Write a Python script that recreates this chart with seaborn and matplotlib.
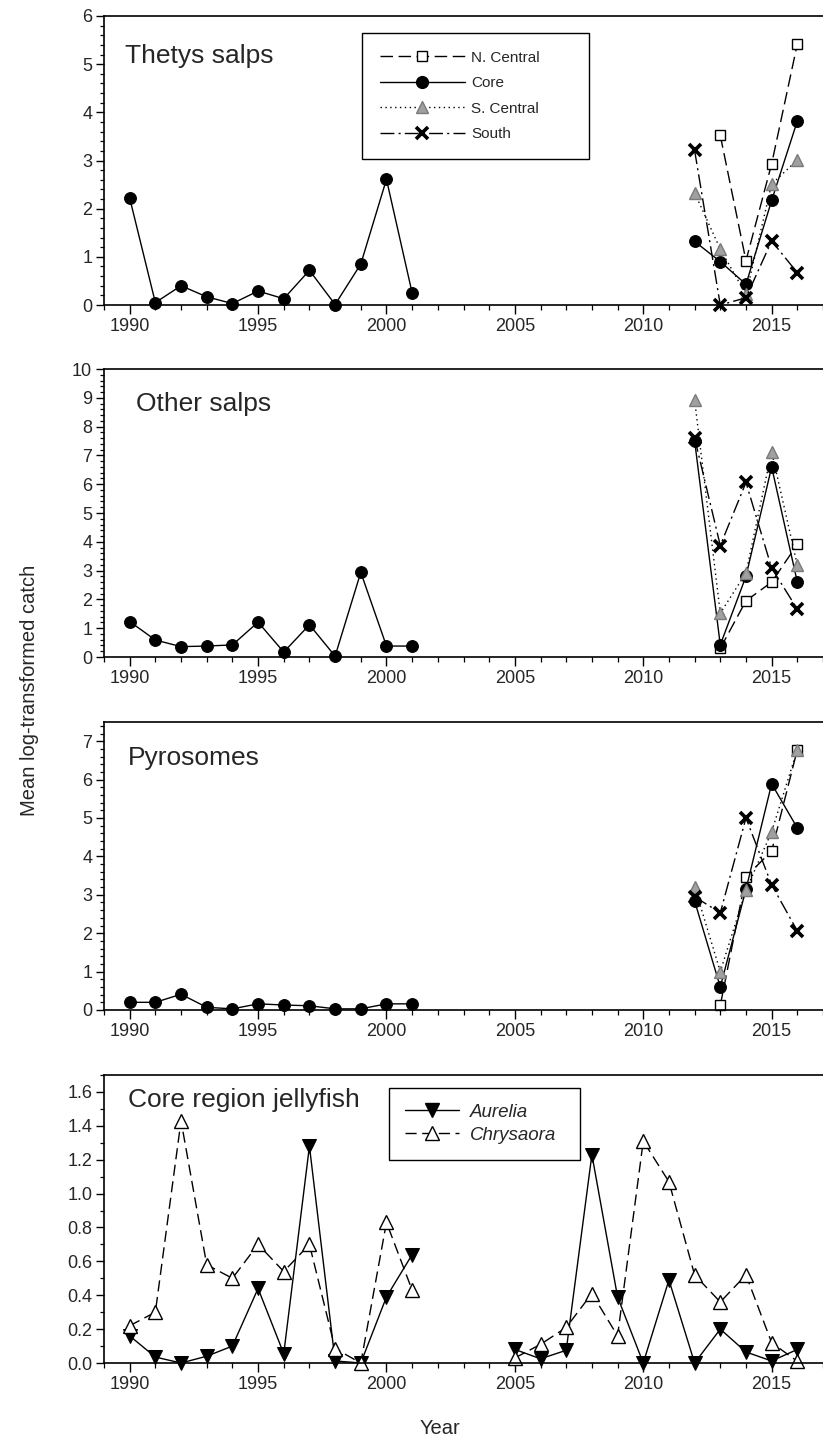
import matplotlib
matplotlib.use("Agg")
import matplotlib.pyplot as plt
from matplotlib.lines import Line2D
from matplotlib.ticker import MultipleLocator, FormatStrFormatter
import pandas as pd
import seaborn as sns

# ---- data ----
years_early = list(range(1990, 2002))
years_late = list(range(2012, 2017))
years_jelly_late = list(range(2005, 2017))

thetys_core_early = [2.22, 0.05, 0.40, 0.17, 0.03, 0.29, 0.13, 0.72, 0.01, 0.85, 2.61, 0.25]
thetys_ncentral = [None, 3.52, 0.92, 2.93, 5.42]
thetys_core_late = [1.32, 0.90, 0.43, 2.17, 3.82]
thetys_scentral = [2.33, 1.16, 0.22, 2.51, 3.01]
thetys_south = [3.21, 0.00, 0.15, 1.33, 0.67]

other_core_early = [1.23, 0.59, 0.36, 0.38, 0.42, 1.21, 0.17, 1.12, 0.03, 2.94, 0.38, 0.38]
other_ncentral = [None, 0.30, 1.95, 2.60, 3.91]
other_core_late = [7.51, 0.42, 2.80, 6.60, 2.60]
other_scentral = [8.93, 1.52, 2.92, 7.13, 3.19]
other_south = [7.60, 3.87, 6.06, 3.09, 1.66]

pyro_core_early = [0.20, 0.20, 0.41, 0.07, 0.03, 0.16, 0.13, 0.11, 0.03, 0.03, 0.16, 0.16]
pyro_ncentral = [None, 0.12, 3.47, 4.14, 6.78]
pyro_core_late = [2.84, 0.60, 3.14, 5.89, 4.74]
pyro_scentral = [3.21, 1.00, 3.12, 4.64, 6.78]
pyro_south = [2.95, 2.53, 5.00, 3.26, 2.06]

aurelia_early = [0.16, 0.035, 0.0, 0.04, 0.10, 0.44, 0.055, 1.28, 0.012, 0.0, 0.39, 0.64]
chrysaora_early = [0.22, 0.30, 1.43, 0.58, 0.50, 0.70, 0.54, 0.70, 0.085, 0.0, 0.83, 0.43]
aurelia_late = [0.08, 0.025, 0.075, 1.23, 0.39, 0.0, 0.49, 0.0, 0.20, 0.065, 0.012, 0.08]
chrysaora_late = [0.03, 0.11, 0.21, 0.41, 0.16, 1.31, 1.07, 0.52, 0.36, 0.52, 0.12, 0.01]

region_labels = ["N. Central", "Core", "S. Central", "South"]
jelly_labels = ["Aurelia", "Chrysaora"]
panel_titles = ["Thetys salps", "Other salps", "Pyrosomes", "Core region jellyfish"]

# ---- styles ----
STYLE_NC = dict(color="black", linestyle=(0, (9, 4)), marker="s", markersize=7.5,
                markerfacecolor="white", markeredgecolor="black", markeredgewidth=1.0)
STYLE_CORE = dict(color="black", linestyle="-", marker="o", markersize=8.5,
                  markerfacecolor="black", markeredgecolor="black")
STYLE_SC = dict(color="black", linestyle=(0, (1, 2.5)), marker="^", markersize=8.5,
                markerfacecolor="#a0a0a0", markeredgecolor="#7a7a7a", markeredgewidth=1.0)
STYLE_SOUTH = dict(color="black", linestyle=(0, (10, 3, 1.5, 3)), marker="x", markersize=8,
                   markeredgewidth=2.6, markeredgecolor="black")
STYLE_AUR = dict(color="black", linestyle="-", marker="v", markersize=10,
                 markerfacecolor="black", markeredgecolor="black")
STYLE_CHRY = dict(color="black", linestyle=(0, (8, 4)), marker="^", markersize=10,
                  markerfacecolor="white", markeredgecolor="black", markeredgewidth=1.0)


def draw(ax, years, values, style):
    df = pd.DataFrame({"year": years, "value": values}).dropna()
    sns.lineplot(data=df, x="year", y="value", ax=ax, estimator=None, sort=False,
                 legend=False, linewidth=1.0, clip_on=False, **style)


sns.set_theme(style="ticks")
plt.rcParams["font.family"] = ["Liberation Sans", "DejaVu Sans"]

W, H = 823, 1447
fig = plt.figure(figsize=(W / 100, H / 100), dpi=100)

left = 104 / W
width = (W - 104) / W
panel_px = [(16, 305), (369, 657), (722, 1010), (1075, 1363)]
axes = []
for top, bot in panel_px:
    ax = fig.add_axes([left, 1 - bot / H, width, (bot - top) / H])
    axes.append(ax)

# panel 1: Thetys salps
ax = axes[0]
draw(ax, years_early, thetys_core_early, STYLE_CORE)
draw(ax, years_late, thetys_ncentral, STYLE_NC)
draw(ax, years_late, thetys_core_late, STYLE_CORE)
draw(ax, years_late, thetys_scentral, STYLE_SC)
draw(ax, years_late, thetys_south, STYLE_SOUTH)

# panel 2: other salps
ax = axes[1]
draw(ax, years_early, other_core_early, STYLE_CORE)
draw(ax, years_late, other_ncentral, STYLE_NC)
draw(ax, years_late, other_core_late, STYLE_CORE)
draw(ax, years_late, other_scentral, STYLE_SC)
draw(ax, years_late, other_south, STYLE_SOUTH)

# panel 3: pyrosomes
ax = axes[2]
draw(ax, years_early, pyro_core_early, STYLE_CORE)
draw(ax, years_late, pyro_ncentral, STYLE_NC)
draw(ax, years_late, pyro_core_late, STYLE_CORE)
draw(ax, years_late, pyro_scentral, STYLE_SC)
draw(ax, years_late, pyro_south, STYLE_SOUTH)

# panel 4: jellyfish
ax = axes[3]
draw(ax, years_early, aurelia_early, STYLE_AUR)
draw(ax, years_early, chrysaora_early, STYLE_CHRY)
draw(ax, years_jelly_late, aurelia_late, STYLE_AUR)
draw(ax, years_jelly_late, chrysaora_late, STYLE_CHRY)

ylims = [(0, 6), (0, 10), (0, 7.5), (0, 1.7)]
ymajor = [1, 1, 1, 0.2]
yminor = [0.2, 0.2, 0.2, 0.1]

for i, ax in enumerate(axes):
    ax.set_xlim(1989, 2017)
    ax.set_ylim(*ylims[i])
    ax.xaxis.set_major_locator(MultipleLocator(5))
    ax.xaxis.set_minor_locator(MultipleLocator(1))
    ax.yaxis.set_major_locator(MultipleLocator(ymajor[i]))
    ax.yaxis.set_minor_locator(MultipleLocator(yminor[i]))
    if i == 3:
        ax.yaxis.set_major_formatter(FormatStrFormatter("%.1f"))
    else:
        ax.yaxis.set_major_formatter(FormatStrFormatter("%d"))
    ax.tick_params(axis="both", which="major", direction="out", length=6.5, width=1.0,
                   labelsize=13, color="black", pad=3)
    ax.tick_params(axis="both", which="minor", direction="out", length=3.5, width=0.9,
                   color="black")
    ax.tick_params(axis="y", which="major", length=5.5)
    ax.tick_params(axis="y", which="minor", length=3)
    ax.set_xlabel("")
    ax.set_ylabel("")
    for s in ["left", "bottom", "top"]:
        ax.spines[s].set_linewidth(1.2)
        ax.spines[s].set_color("black")
    ax.spines["right"].set_visible(False)
    ax.set_facecolor("white")

# legends
handles = [Line2D([], [], linewidth=1.0, **st) for st in (STYLE_NC, STYLE_CORE, STYLE_SC, STYLE_SOUTH)]
leg = axes[0].legend(handles, region_labels, loc="upper left",
                     bbox_to_anchor=(0.359, 0.503, 0.316, 0.438), mode="expand",
                     borderaxespad=0, fontsize=11, handlelength=5.6, handletextpad=0.4,
                     labelspacing=0.75, borderpad=1.15, numpoints=1,
                     fancybox=False, framealpha=1, edgecolor="black")
leg.get_frame().set_linewidth(1.0)

handles = [Line2D([], [], linewidth=1.0, **st) for st in (STYLE_AUR, STYLE_CHRY)]
leg = axes[3].legend(handles, jelly_labels, loc="upper left",
                     bbox_to_anchor=(0.396, 0.955, 0.266, 0.0), mode="expand",
                     borderaxespad=0, prop={"size": 13.5, "style": "italic"},
                     handlelength=2.9, handletextpad=0.6, labelspacing=0.3,
                     borderpad=0.85, numpoints=1, fancybox=False, framealpha=1,
                     edgecolor="black")
leg.get_frame().set_linewidth(1.0)

# panel titles
title_pos = [(125, 63), (136, 411), (128, 765), (128, 1107)]
for (px, py), t in zip(title_pos, panel_titles):
    fig.text(px / W, 1 - py / H, t, fontsize=19, va="baseline", ha="left")

fig.text(30 / W, 1 - 690 / H, "Mean log-transformed catch", rotation=90,
         fontsize=14.5, va="center", ha="center")
fig.text(440 / W, 1 - 1428 / H, "Year", fontsize=14.5, va="center", ha="center")

fig.savefig("out.png", dpi=100, facecolor="white")
